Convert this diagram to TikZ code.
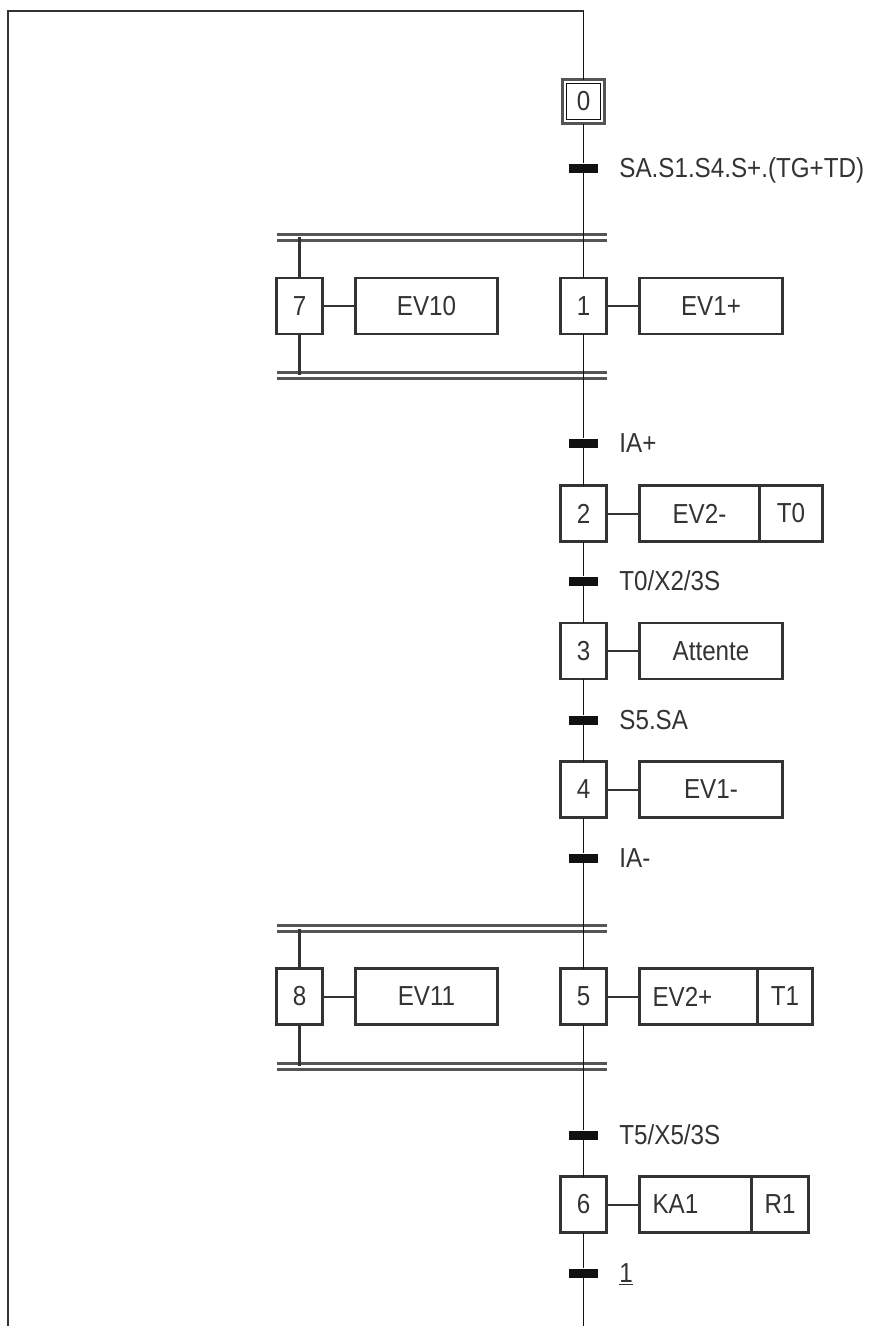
\documentclass[tikz,border=0pt]{standalone}
\usepackage{fontspec}
\setmainfont{Liberation Sans}[FakeStretch=0.88]
\usepackage{tikz}
\usetikzlibrary{positioning, calc, fit}
\definecolor{linedark}{HTML}{111111}
\definecolor{boxgray}{HTML}{333333}
\definecolor{bargray}{HTML}{555555}
\definecolor{textdark}{HTML}{333333}
\newcommand{\grafcetfont}{\fontsize{27.5}{32}\selectfont}
\tikzset{
  % Steps
  stepbox/.style={
    draw=boxgray, fill=white, line width=2.2pt,
    minimum width=46pt, minimum height=56pt,
    inner sep=0pt, outer sep=0pt,
    font=\grafcetfont, text=textdark,
  },
  initstep/.style={
    stepbox, draw=linedark, line width=1.5pt,
    minimum width=34pt, minimum height=36pt,
  },
  initframe/.style={
    draw=bargray, line width=2.8pt, inner sep=4pt, outer sep=0pt,
  },
  % Actions
  actbox/.style={
    draw=boxgray, fill=white, line width=2.2pt,
    minimum width=#1, minimum height=56pt,
    inner sep=0pt, outer sep=0pt,
    font=\grafcetfont, text=textdark,
  },
  actbox/.default=143pt,
  actleft/.style={actbox=1pt, text width=#1, align=left, inner xsep=13pt},
  % Transitions
  trans/.style={
    fill=linedark, minimum width=29pt, minimum height=9pt,
    inner sep=0pt,
  },
  tlabel/.style={
    font=\grafcetfont, text=textdark, inner sep=0pt,
    text height=19.5pt, text depth=0pt,
  },
  % Lines
  flow/.style={draw=linedark, line width=1.7pt},
  branch/.style={draw=boxgray, line width=2.4pt},
  link/.style={draw=boxgray, line width=2pt},
  loopline/.style={draw=boxgray, line width=2.4pt},
  syncbar/.style={draw=bargray, line width=3pt, double=white, double distance=3pt},
}

\begin{document}
\begin{tikzpicture}[x=1pt, y=-1pt, node distance=33pt]
  \useasboundingbox (0,0) rectangle (870,1326);

  % sync bars
  \coordinate (d1w) at (277,237);   \coordinate (d1e) at (607,237);
  \coordinate (d2w) at (277,375);   \coordinate (d2e) at (607,375);
  \coordinate (d3w) at (277,928.5); \coordinate (d3e) at (607,928.5);
  \coordinate (d4w) at (277,1066);  \coordinate (d4e) at (607,1066);
  \draw[syncbar] (d1w) -- (d1e);
  \draw[syncbar] (d2w) -- (d2e);
  \draw[syncbar] (d3w) -- (d3e);
  \draw[syncbar] (d4w) -- (d4e);

  % steps
  \node[initstep] (s0) at (583.5,101.5) {0};
  \node[initframe, fit=(s0)] (s0f) {};
  \node[stepbox] (s1) at (583.5,306) {1};
  \node[stepbox] (s7) at (299.5,306) {7};
  \node[stepbox] (s2) at (583.5,513.5) {2};
  \node[stepbox] (s3) at (583.5,651) {3};
  \node[stepbox] (s4) at (583.5,789.5) {4};
  \node[stepbox] (s5) at (583.5,996.5) {5};
  \node[stepbox] (s8) at (299.5,996.5) {8};
  \node[stepbox] (s6) at (583.5,1204.5) {6};

  % actions
  \node[actbox=142pt, right=of s7] (a7) {EV10};
  \node[actbox, right=of s1] (a1) {EV1+};
  \node[actbox=120pt, right=of s2] (a2) {EV2-};
  \node[actbox=63pt, right=0pt of a2] (a2t) {T0};
  \node[actbox, right=of s3] (a3) {Attente};
  \node[actbox, right=of s4] (a4) {EV1-};
  \node[actbox=142pt, right=of s8] (a8) {EV11};
  \node[actleft=92pt, right=of s5] (a5) {EV2+};
  \node[actbox=55pt, right=0pt of a5] (a5t) {T1};
  \node[actleft=86pt, right=of s6] (a6) {KA1};
  \node[actbox=57pt, right=0pt of a6] (a6t) {R1};

  % transitions
  \node[trans] (t0) at (583.5,168) {};
  \node[trans] (t1) at (583.5,443) {};
  \node[trans] (t2) at (583.5,581) {};
  \node[trans] (t3) at (583.5,720) {};
  \node[trans] (t4) at (583.5,858) {};
  \node[trans] (t5) at (583.5,1135) {};
  \node[trans] (t6) at (583.5,1273) {};
  \node[tlabel, right=21pt of t0] (t0l) {SA.S1.S4.S+.(TG+TD)};
  \node[tlabel, right=21pt of t1] (t1l) {IA+};
  \node[tlabel, right=21pt of t2] (t2l) {T0/X2/3S};
  \node[tlabel, right=21pt of t3] (t3l) {S5.SA};
  \node[tlabel, right=21pt of t4] (t4l) {IA-};
  \node[tlabel, right=21pt of t5] (t5l) {T5/X5/3S};
  \node[tlabel, right=21pt of t6] (t6l) {\underline{1}};

  % main flow
  \coordinate (loopTL) at (8,11);
  \coordinate (loopTR) at (583.5,11);
  \coordinate (loopBL) at (8,1326);
  \coordinate (loopB) at (583.5,1326);
  \draw[loopline] (loopBL) -- (loopTL) -- (loopTR);
  \draw[flow] (loopTR) -- (s0f);
  \draw[flow] (s0f) -- (t0);
  \draw[flow] (t0) -- (s1);
  \draw[flow] (s1) -- (t1);
  \draw[flow] (t1) -- (s2);
  \draw[flow] (s2) -- (t2);
  \draw[flow] (t2) -- (s3);
  \draw[flow] (s3) -- (t3);
  \draw[flow] (t3) -- (s4);
  \draw[flow] (s4) -- (t4);
  \draw[flow] (t4) -- (s5);
  \draw[flow] (s5) -- (t5);
  \draw[flow] (t5) -- (s6);
  \draw[flow] (s6) -- (t6);
  \draw[flow] (t6) -- (loopB);

  % parallel branches
  \draw[branch] (s7 |- d1w) -- (s7);
  \draw[branch] (s7) -- (s7 |- d2w);
  \draw[branch] (s8 |- d3w) -- (s8);
  \draw[branch] (s8) -- (s8 |- d4w);

  % step to action links
  \foreach \s/\a in {s7/a7, s1/a1, s2/a2, s3/a3, s4/a4, s8/a8, s5/a5, s6/a6}
    \draw[link] (\s) -- (\a);
\end{tikzpicture}
\end{document}
